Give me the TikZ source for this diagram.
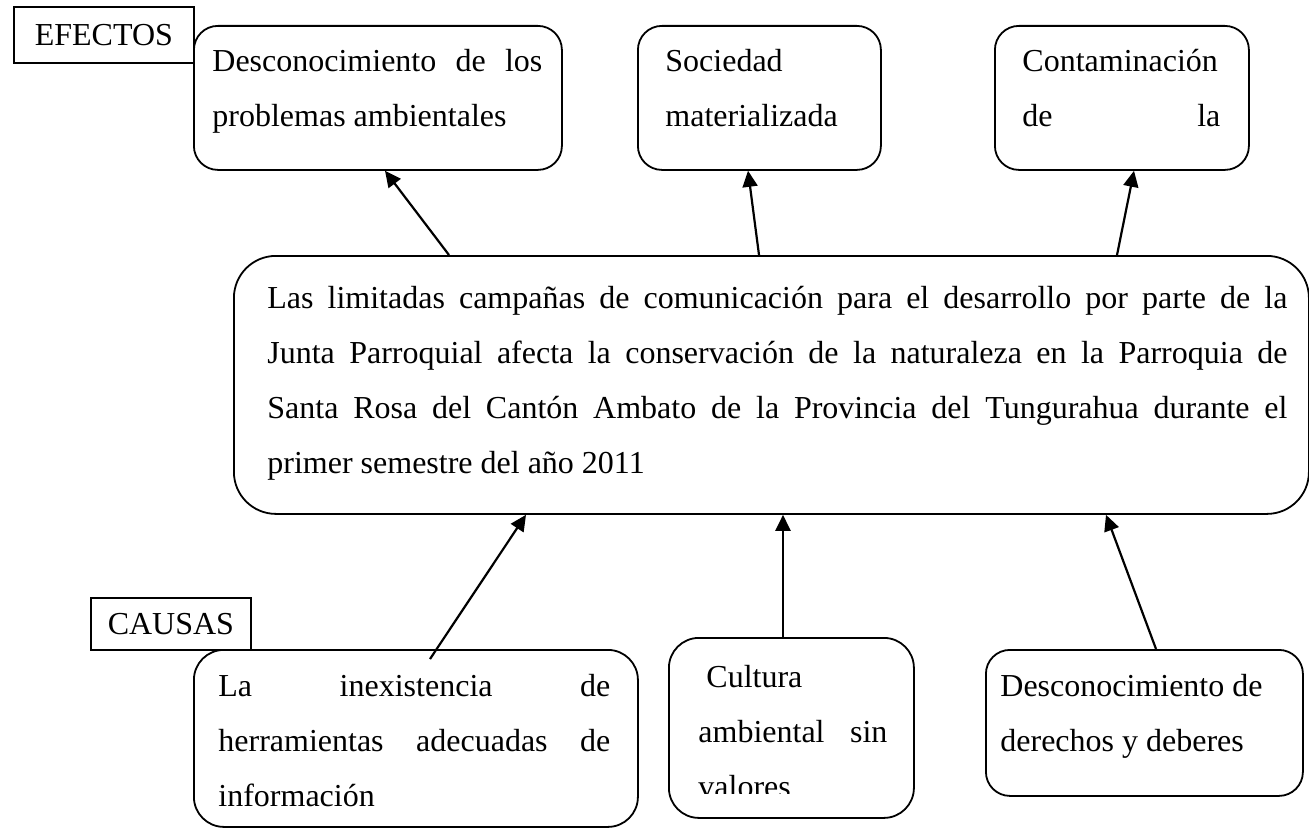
\documentclass[tikz,border=0pt]{standalone}
\usepackage{fontspec}
\setmainfont{Liberation Serif}
\usetikzlibrary{arrows.meta}
\tolerance=10000
\hbadness=10000

\tikzset{
  caja/.style={draw, line width=0.9pt, anchor=north west, inner sep=0pt},
  etiqueta/.style={draw, line width=0.9pt, anchor=north west, inner sep=0pt, font=\fontsize{16}{27.5}\selectfont},
  texto/.style={anchor=base west, inner sep=0pt, align=justify, font=\fontsize{16}{27.5}\selectfont},
  flecha/.style={-{Triangle[length=8pt,width=7.5pt]}, line width=1.1pt}
}

\begin{document}
\begin{tikzpicture}[x=0.5pt, y=-0.5pt]
\useasboundingbox (0,0) rectangle (1309,829);

\node[caja, rounded corners=12pt, minimum width=184pt, minimum height=72pt] (ef1) at (193,25) {};
\node[caja, rounded corners=12pt, minimum width=121.5pt, minimum height=72pt] (ef2) at (637,25) {};
\node[caja, rounded corners=12pt, minimum width=127pt, minimum height=72pt] (ef3) at (994,25) {};
\node[etiqueta, minimum width=90pt, minimum height=28pt] (efectos) at (13,6) {EFECTOS};

\node[caja, rounded corners=21pt, minimum width=537.5pt, minimum height=129pt] (centro) at (233,255) {};

\node[etiqueta, minimum width=80pt, minimum height=26pt] (causas) at (90,597) {CAUSAS};
\node[caja, rounded corners=15pt, minimum width=222pt, minimum height=88.5pt] (c1) at (193,649) {};
\node[caja, rounded corners=15pt, minimum width=122.5pt, minimum height=90pt] (c2) at (668,637) {};
\node[caja, rounded corners=12pt, minimum width=158.5pt, minimum height=73pt] (c3) at (985,649) {};

\node[texto, text width=165pt] (ef1t) at (212,72) {Desconocimiento de los\linebreak problemas ambientales};
\node[texto, text width=95pt] (ef2t) at (665,72) {Sociedad\newline materializada};
\node[texto, text width=99pt] (ef3t) at (1022,72) {Contaminación\newline de\hfill la};

\node[texto, text width=510pt] (centrot) at (267,308) {Las limitadas campañas de comunicación para el desarrollo por parte de la\linebreak Junta Parroquial afecta la conservación de la naturaleza en la Parroquia de\linebreak Santa Rosa del Cantón Ambato de la Provincia del Tungurahua durante el\linebreak primer semestre del año 2011};

\node[texto, text width=196pt] (c1t) at (218,696) {La inexistencia de\linebreak herramientas adecuadas de\linebreak información};
\begin{scope}
  \clip (c2.north west) rectangle ([shift={(0,-25)}]c2.south east);
  \node[texto, text width=94.5pt] (c2t) at (698,687) {\ Cultura\newline ambiental sin\linebreak valores};
\end{scope}
\node[texto, text width=138.5pt] (c3t) at (1000,696) {Desconocimiento de\newline derechos y deberes};

\draw[flecha] ([shift={(216,0)}]centro.north west) -- ([shift={(192,0)}]ef1.south west);
\draw[flecha] ([shift={(526,0)}]centro.north west) -- ([shift={(111,0)}]ef2.south west);
\draw[flecha] ([shift={(884,0)}]centro.north west) -- ([shift={(140,0)}]ef3.south west);

\draw[flecha] ([shift={(237,10)}]c1.north west) -- ([shift={(293,0)}]centro.south west);
\draw[flecha] ([shift={(115,0)}]c2.north west) -- ([shift={(550,0)}]centro.south west);
\draw[flecha] ([shift={(171,0)}]c3.north west) -- ([shift={(873,0)}]centro.south west);
\end{tikzpicture}
\end{document}
